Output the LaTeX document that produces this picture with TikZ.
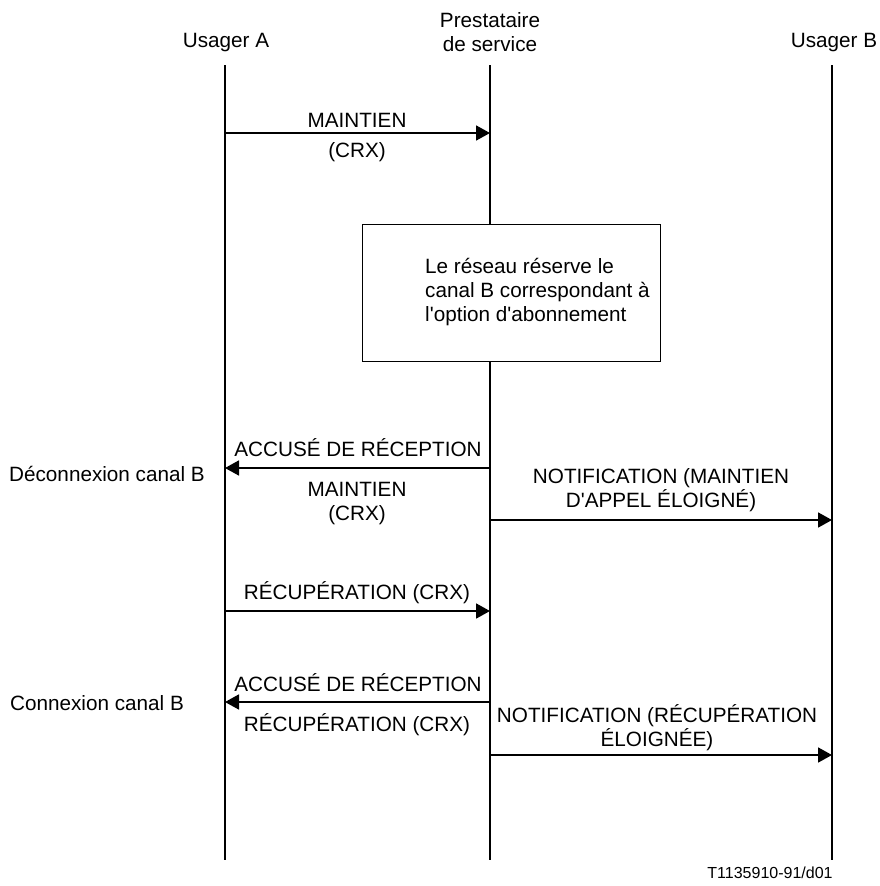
\documentclass[tikz,border=0pt]{standalone}
\usepackage{fontspec}
\setmainfont{Liberation Sans}
\usetikzlibrary{arrows.meta}

\begin{document}
\begin{tikzpicture}
[x=1pt, y=-1pt,
lifeline/.style={line width=1.8pt},
message/.style={line width=1.8pt, -{Triangle[length=14pt,width=15pt]}},
msglabel/.style={font=\fontsize{20.7}{24}\selectfont, align=center, inner sep=0pt},
sidenote/.style={msglabel, align=left},
reserve/.style={draw, line width=1.1pt, inner sep=0pt},
refcode/.style={font=\fontsize{16}{19}\selectfont, inner sep=0pt}]
\useasboundingbox (0,0) rectangle (879,886);
% headers
\node[msglabel] (usa) at (226,43) {Usager A};
\node[msglabel] (prest) at (490,32) {Prestataire\\de service};
\node[msglabel] (usb) at (834,43) {Usager B};
% lifelines
\coordinate (Atop) at (225,65); \coordinate (Abot) at (225,860);
\coordinate (Ptop) at (490,65); \coordinate (Pbot) at (490,860);
\coordinate (Btop) at (832,65); \coordinate (Bbot) at (832,860);
\node[reserve, anchor=north west, minimum width=298, minimum height=137] (box) at (362,224) {};
\node[sidenote, anchor=west] (boxtext) at (425,292) {Le réseau réserve le\\canal B correspondant à\\l\textquotesingle option d\textquotesingle abonnement};
\draw[lifeline] (Atop) -- (Abot);
\draw[lifeline] (Ptop) -- (box.north -| Ptop);
\draw[lifeline] (box.south -| Ptop) -- (Pbot);
\draw[lifeline] (Btop) -- (Bbot);
% message points
\coordinate (a1) at (225,133); \coordinate (p1) at (490,133);
\coordinate (a2) at (225,468); \coordinate (p2) at (490,468);
\coordinate (p3) at (490,520); \coordinate (b3) at (832,520);
\coordinate (a4) at (225,611); \coordinate (p4) at (490,611);
\coordinate (a5) at (225,702); \coordinate (p5) at (490,702);
\coordinate (p6) at (490,755); \coordinate (b6) at (832,755);
\draw[message] (a1) -- (p1);
\draw[message] (p2) -- (a2);
\draw[message] (p3) -- (b3);
\draw[message] (a4) -- (p4);
\draw[message] (p5) -- (a5);
\draw[message] (p6) -- (b6);
% labels
\node[msglabel] (m1up) at (357,120) {MAINTIEN};
\node[msglabel] (m1low) at (357,152) {(CRX)};
\node[msglabel] (m2up) at (358,448) {ACCUSÉ DE RÉCEPTION};
\node[msglabel] (m2low) at (357,504) {MAINTIEN\\(CRX)};
\node[sidenote] (decon) at (107,474) {Déconnexion canal B};
\node[msglabel] (m3up) at (661,490) {NOTIFICATION (MAINTIEN\\D\textquotesingle APPEL ÉLOIGNÉ)};
\node[msglabel] (m4up) at (357,593) {RÉCUPÉRATION (CRX)};
\node[msglabel] (m5up) at (358,683) {ACCUSÉ DE RÉCEPTION};
\node[msglabel] (m5low) at (357,725) {RÉCUPÉRATION (CRX)};
\node[sidenote] (con) at (97,703) {Connexion canal B};
\node[msglabel] (m6up) at (657,728) {NOTIFICATION (RÉCUPÉRATION\\ÉLOIGNÉE)};
\node[refcode] (ref) at (770,873) {T1135910-91/d01};
\end{tikzpicture}
\end{document}
